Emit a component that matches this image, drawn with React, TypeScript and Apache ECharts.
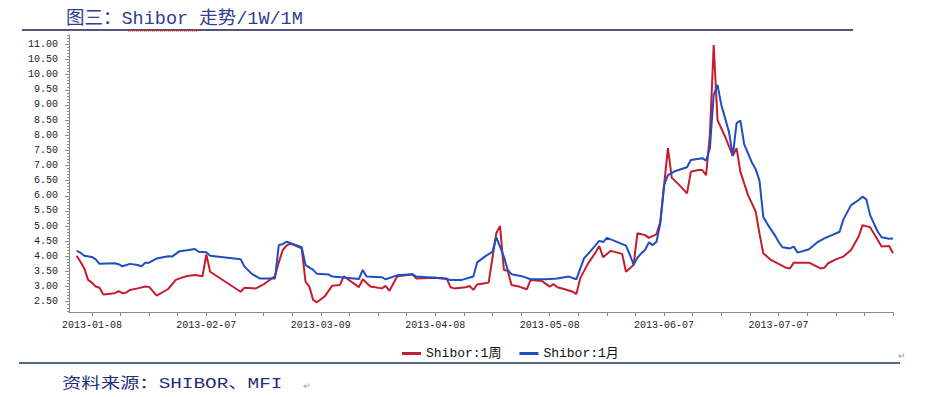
import React, { useEffect, useRef } from "react";
import * as echarts from "echarts";

const seriesNames = ["Shibor:1周", "Shibor:1月"];

const w1Dates = [
  "2013-01-04","2013-01-05","2013-01-06","2013-01-07","2013-01-08","2013-01-09","2013-01-10","2013-01-11",
  "2013-01-14","2013-01-15","2013-01-16","2013-01-17","2013-01-18","2013-01-20","2013-01-22","2013-01-23",
  "2013-01-25","2013-01-28","2013-01-30","2013-01-31","2013-02-02","2013-02-04","2013-02-06","2013-02-07",
  "2013-02-08","2013-02-16","2013-02-17","2013-02-20","2013-02-22","2013-02-25","2013-02-26","2013-02-27",
  "2013-02-28","2013-03-01","2013-03-02","2013-03-04","2013-03-05","2013-03-06","2013-03-07","2013-03-08",
  "2013-03-10","2013-03-12","2013-03-14","2013-03-15","2013-03-19","2013-03-20","2013-03-22","2013-03-25",
  "2013-03-26","2013-03-27","2013-03-29","2013-04-02","2013-04-03","2013-04-08","2013-04-11","2013-04-12",
  "2013-04-13","2013-04-16","2013-04-17","2013-04-18","2013-04-19","2013-04-21","2013-04-22","2013-04-24",
  "2013-04-25","2013-04-26","2013-04-27","2013-04-28","2013-04-30","2013-05-02","2013-05-03","2013-05-06",
  "2013-05-08","2013-05-09","2013-05-10","2013-05-12","2013-05-14","2013-05-15","2013-05-16","2013-05-18",
  "2013-05-20","2013-05-21","2013-05-22","2013-05-24","2013-05-27","2013-05-28","2013-05-30","2013-05-31",
  "2013-06-02","2013-06-03","2013-06-05","2013-06-06","2013-06-07","2013-06-08","2013-06-09","2013-06-11",
  "2013-06-13","2013-06-14","2013-06-16","2013-06-17","2013-06-18","2013-06-19","2013-06-20","2013-06-21",
  "2013-06-23","2013-06-25","2013-06-26","2013-06-27","2013-06-29","2013-07-01","2013-07-02","2013-07-03",
  "2013-07-05","2013-07-07","2013-07-09","2013-07-10","2013-07-11","2013-07-15","2013-07-18","2013-07-19",
  "2013-07-20","2013-07-22","2013-07-24","2013-07-26","2013-07-28","2013-07-29","2013-07-31","2013-08-02",
  "2013-08-03","2013-08-05","2013-08-06"
];
const w1Values = [
  4.02,3.82,3.60,3.22,3.13,3.00,2.96,2.74,
  2.78,2.85,2.78,2.80,2.89,2.94,3.00,2.99,
  2.70,2.92,3.22,3.27,3.35,3.38,3.34,4.06,
  3.49,2.83,2.96,2.94,3.07,3.35,3.80,4.20,
  4.35,4.42,4.37,4.26,3.16,3.00,2.56,2.48,
  2.67,3.03,3.05,3.34,2.98,3.24,3.00,2.94,
  3.02,2.86,3.33,3.41,3.27,3.29,3.27,2.98,
  2.94,2.98,3.02,2.89,3.07,3.11,3.13,4.76,
  5.00,3.55,3.52,3.05,3.00,2.91,3.22,3.18,
  3.00,3.08,2.98,2.91,2.83,2.75,3.27,3.75,
  4.12,4.34,3.97,4.18,4.08,3.49,3.71,4.76,
  4.70,4.61,4.73,5.14,6.35,7.57,6.60,6.35,
  6.08,6.79,6.85,6.85,6.68,8.01,10.98,8.50,
  7.95,7.32,7.57,6.79,6.02,5.48,4.75,4.10,
  3.88,3.75,3.62,3.60,3.79,3.79,3.60,3.62,
  3.77,3.90,3.99,4.21,4.65,5.03,4.96,4.54,
  4.32,4.34,4.10
];

const m1Dates = [
  "2013-01-04","2013-01-05","2013-01-06","2013-01-08","2013-01-09","2013-01-10","2013-01-14","2013-01-15",
  "2013-01-16","2013-01-18","2013-01-20","2013-01-21","2013-01-22","2013-01-23","2013-01-25","2013-01-28",
  "2013-01-29","2013-01-31","2013-02-02","2013-02-04","2013-02-05","2013-02-07","2013-02-08","2013-02-16",
  "2013-02-17","2013-02-19","2013-02-21","2013-02-25","2013-02-26","2013-02-27","2013-02-28","2013-03-01",
  "2013-03-04","2013-03-05","2013-03-07","2013-03-08","2013-03-11","2013-03-12","2013-03-15","2013-03-19",
  "2013-03-20","2013-03-21","2013-03-25","2013-03-26","2013-03-29","2013-04-02","2013-04-03","2013-04-08",
  "2013-04-11","2013-04-12","2013-04-15","2013-04-18","2013-04-19","2013-04-21","2013-04-23","2013-04-24",
  "2013-04-26","2013-04-27","2013-04-28","2013-05-01","2013-05-03","2013-05-07","2013-05-10","2013-05-13",
  "2013-05-15","2013-05-17","2013-05-19","2013-05-21","2013-05-22","2013-05-23","2013-05-25","2013-05-28",
  "2013-05-29","2013-05-30","2013-05-31","2013-06-01","2013-06-02","2013-06-03","2013-06-04","2013-06-05",
  "2013-06-06","2013-06-07","2013-06-08","2013-06-10","2013-06-13","2013-06-14","2013-06-17","2013-06-18",
  "2013-06-19","2013-06-20","2013-06-21","2013-06-22","2013-06-24","2013-06-25","2013-06-26","2013-06-27",
  "2013-06-28","2013-06-30","2013-07-01","2013-07-02","2013-07-03","2013-07-04","2013-07-06","2013-07-07",
  "2013-07-08","2013-07-10","2013-07-11","2013-07-12","2013-07-15","2013-07-17","2013-07-19","2013-07-21",
  "2013-07-23","2013-07-24","2013-07-26","2013-07-28","2013-07-29","2013-07-30","2013-07-31","2013-08-02",
  "2013-08-03","2013-08-05","2013-08-06"
];
const m1Values = [
  4.18,4.12,4.02,3.98,3.90,3.75,3.77,3.74,
  3.67,3.75,3.71,3.67,3.79,3.79,3.93,4.00,
  3.99,4.17,4.20,4.24,4.15,4.13,4.02,3.90,
  3.66,3.41,3.27,3.27,4.37,4.40,4.48,4.44,
  4.30,3.71,3.55,3.42,3.40,3.33,3.30,3.25,
  3.55,3.33,3.31,3.24,3.37,3.41,3.33,3.29,
  3.25,3.22,3.22,3.33,3.80,3.99,4.15,4.63,
  3.99,3.55,3.41,3.33,3.24,3.24,3.27,3.33,
  3.24,3.93,4.21,4.51,4.47,4.61,4.51,4.35,
  4.06,3.72,3.95,4.10,4.21,4.46,4.37,4.48,
  5.09,6.35,6.68,6.82,6.94,7.18,7.24,7.16,
  7.57,9.33,9.66,9.00,8.11,7.32,8.40,8.48,
  7.70,7.10,6.88,6.50,5.30,5.08,4.70,4.48,
  4.30,4.26,4.32,4.12,4.23,4.45,4.59,4.70,
  4.81,5.22,5.69,5.86,5.97,5.88,5.36,4.81,
  4.63,4.58,4.59
];

const xLabelDates = ["2013-01-08","2013-02-07","2013-03-09","2013-04-08","2013-05-08","2013-06-07","2013-07-07"];
const xRange = ["2013-01-02", "2013-08-06"];
const yLabelValues = [2.5,3.0,3.5,4.0,4.5,5.0,5.5,6.0,6.5,7.0,7.5,8.0,8.5,9.0,9.5,10.0,10.5,11.0];
const yRange = [2.16, 11.31];

const DAY = 86400000;
const toTime = (s: string) => {
  const [y, m, d] = s.split("-").map(Number);
  return Date.UTC(y, m - 1, d);
};
const pad = (n: number) => (n < 10 ? "0" + n : "" + n);
const fmtDate = (v: number) => {
  const d = new Date(v);
  return `${d.getUTCFullYear()}-${pad(d.getUTCMonth() + 1)}-${pad(d.getUTCDate())}`;
};

const MONO = '"Liberation Mono", "DejaVu Sans Mono", "Noto Sans CJK SC", monospace';

export default function App() {
  const ref = useRef<HTMLDivElement>(null);

  useEffect(() => {
    if (!ref.current) return;
    const chart = echarts.init(ref.current, undefined, { renderer: "svg" });

    const xMin = toTime(xRange[0]);
    const xMax = toTime(xRange[1]);
    const labelTimes = xLabelDates.map(toTime);
    const tickTimes: number[] = [];
    for (let t = labelTimes[0]; t <= xMax + 1; t += 7.5 * DAY) tickTimes.push(t);

    const axisColor = "#8a8a8a";

    chart.setOption({
      animation: false,
      backgroundColor: "#ffffff",
      grid: { left: 69, right: 37, top: 35, bottom: 85, containLabel: false },
      legend: {
        data: seriesNames,
        left: 402,
        top: 347,
        padding: 0,
        itemWidth: 19,
        itemHeight: 3,
        itemGap: 18,
        icon: "rect",
        textStyle: { fontFamily: MONO, fontSize: 13, color: "#111" },
      },
      xAxis: {
        type: "value",
        min: xMin,
        max: xMax,
        axisLine: { show: true, lineStyle: { color: axisColor, width: 1 } },
        axisTick: { show: true, length: 4, customValues: tickTimes, lineStyle: { color: axisColor } },
        axisLabel: {
          customValues: labelTimes,
          formatter: (v: number) => fmtDate(v),
          fontFamily: MONO,
          fontSize: 10,
          color: "#222",
          margin: 8,
        },
        splitLine: { show: false },
      },
      yAxis: {
        type: "value",
        min: yRange[0],
        max: yRange[1],
        splitNumber: 18,
        axisLine: { show: true, lineStyle: { color: axisColor, width: 1 } },
        axisTick: { show: true, length: 4, customValues: yLabelValues, lineStyle: { color: axisColor } },
        minorTick: { show: true, splitNumber: 5, length: 2, lineStyle: { color: axisColor } },
        axisLabel: {
          customValues: yLabelValues,
          formatter: (v: number) => v.toFixed(2),
          fontFamily: MONO,
          fontSize: 10,
          color: "#222",
          margin: 11,
        },
        splitLine: { show: false },
      },
      series: [
        {
          name: seriesNames[0],
          type: "line",
          showSymbol: false,
          symbol: "none",
          data: w1Dates.map((d, i) => [toTime(d), w1Values[i]]),
          lineStyle: { color: "#C41E2E", width: 2 },
          itemStyle: { color: "#C41E2E" },
        },
        {
          name: seriesNames[1],
          type: "line",
          showSymbol: false,
          symbol: "none",
          data: m1Dates.map((d, i) => [toTime(d), m1Values[i]]),
          lineStyle: { color: "#1E4EC2", width: 2 },
          itemStyle: { color: "#1E4EC2" },
        },
      ],
      graphic: [
        { type: "line", shape: { x1: 22, y1: 30, x2: 853, y2: 30 }, style: { stroke: "#1b1b50", lineWidth: 1.5 } },
        {
          type: "text",
          x: 66,
          y: 19,
          style: {
            text: "图三：Shibor 走势/1W/1M",
            font: '18.5px "Liberation Mono", "Noto Sans CJK SC", monospace',
            fill: "#2F3E92",
            verticalAlign: "middle",
          },
        },
        { type: "line", shape: { x1: 128, y1: 30.5, x2: 198, y2: 30.5 }, style: { stroke: "#d02828", lineWidth: 2, lineDash: [1, 1] } },
        { type: "line", shape: { x1: 19, y1: 363, x2: 900, y2: 363 }, style: { stroke: "#1f3760", lineWidth: 1.5 } },
        {
          type: "text",
          x: 62,
          y: 384,
          scaleX: 1.29,
          style: {
            text: "资料来源：SHIBOR、MFI",
            font: '15px "Liberation Mono", "Noto Sans CJK SC", monospace',
            fill: "#1F2D7A",
            verticalAlign: "middle",
          },
        },
        { type: "text", x: 303, y: 386, style: { text: "↵", font: "9px sans-serif", fill: "#999", verticalAlign: "middle" } },
        { type: "text", x: 898, y: 356, style: { text: "↵", font: "9px sans-serif", fill: "#999", verticalAlign: "middle" } },
      ],
    });

    return () => chart.dispose();
  }, []);

  return <div ref={ref} style={{ position: "fixed", left: 0, top: 0, width: 930, height: 397 }} />;
}
